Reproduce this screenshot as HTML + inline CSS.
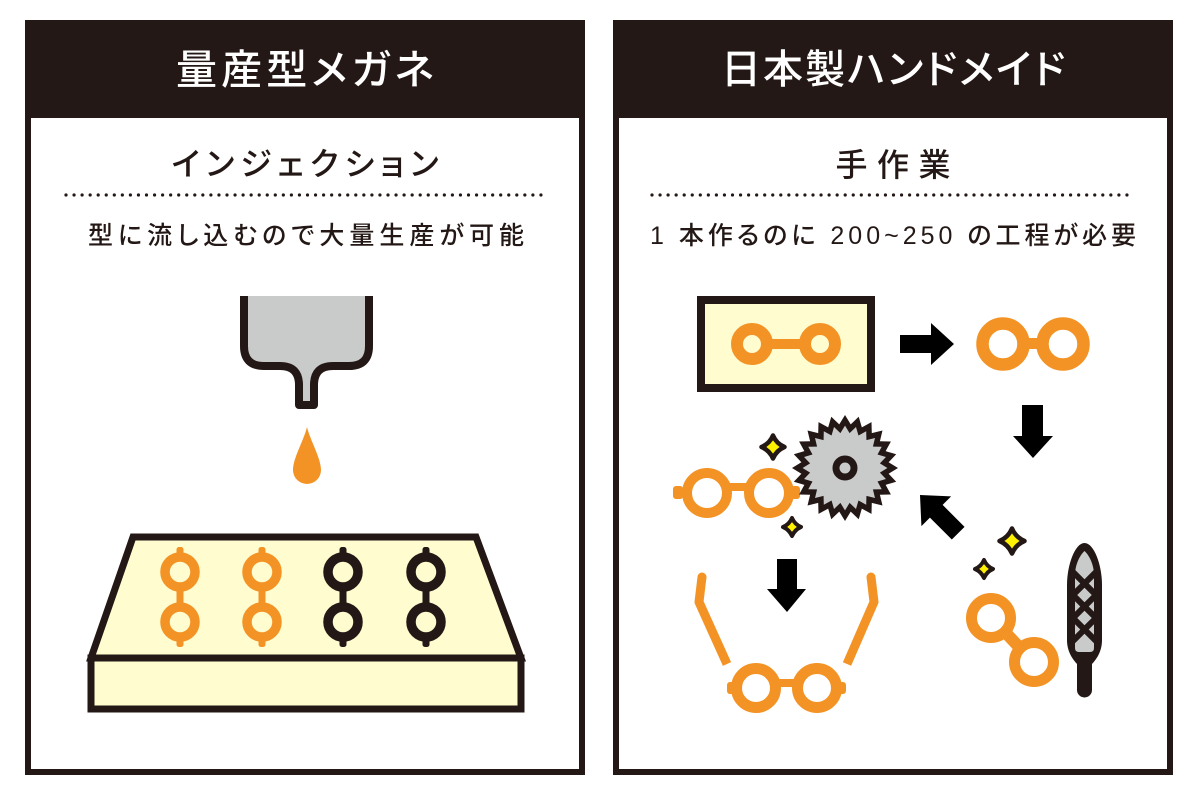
<!DOCTYPE html>
<html>
<head>
<meta charset="utf-8">
<style>
  html,body{margin:0;padding:0;background:#fff;}
  svg{display:block;}
  text{font-family:"Liberation Sans","Noto Sans CJK JP",sans-serif;font-feature-settings:"palt";}
</style>
</head>
<body>
<svg width="1200" height="800" viewBox="0 0 1200 800" xmlns="http://www.w3.org/2000/svg">
  <rect x="0" y="0" width="1200" height="800" fill="#ffffff"/>

  <!-- ============ LEFT PANEL ============ -->
  <rect x="25" y="20" width="560" height="98" fill="#231815"/>
  <rect x="28" y="23" width="554" height="749" fill="none" stroke="#231815" stroke-width="6"/>
  <text x="305" y="70" text-anchor="middle" dominant-baseline="central" font-size="41" font-weight="500" fill="#ffffff" textLength="258" lengthAdjust="spacing">量産型メガネ</text>
  <text x="305" y="164" text-anchor="middle" dominant-baseline="central" font-size="32" font-weight="500" fill="#231815" textLength="267" lengthAdjust="spacing">インジェクション</text>
  <line x1="66" y1="195" x2="546" y2="195" stroke="#231815" stroke-width="3.2" stroke-linecap="round" stroke-dasharray="0 8.05"/>
  <text x="306" y="236" text-anchor="middle" dominant-baseline="central" font-size="25" font-weight="500" fill="#231815" textLength="436" lengthAdjust="spacing">型に流し込むので大量生産が可能</text>

  <!-- nozzle -->
  <path d="M244,296 V346 Q244,366 264,366 H280 Q299,366 299,385 V405 H314 V385 Q314,366 333,366 H349 Q369,366 369,346 V296" fill="#c9caca" stroke="#231815" stroke-width="8" stroke-linejoin="round"/>
  <!-- drop -->
  <path d="M307,427 C310,440 321,458 321,470 A14,14 0 0 1 293,470 C293,458 304,440 307,427 Z" fill="#f39325"/>

  <!-- mold -->
  <polygon points="133,537 476,537 521,658 91,658" fill="#fffccf" stroke="#231815" stroke-width="7" stroke-linejoin="miter"/>
  <rect x="91" y="658" width="430" height="51" fill="#fffccf" stroke="#231815" stroke-width="7"/>

  <!-- mold glasses -->
  <g fill="none" stroke-width="9.5">
    <circle cx="180" cy="572" r="15" stroke="#f39325"/><circle cx="180" cy="622" r="15" stroke="#f39325"/>
    <circle cx="262" cy="572" r="15" stroke="#f39325"/><circle cx="262" cy="622" r="15" stroke="#f39325"/>
    <circle cx="343" cy="572" r="15" stroke="#231815"/><circle cx="343" cy="622" r="15" stroke="#231815"/>
    <circle cx="426" cy="572" r="15" stroke="#231815"/><circle cx="426" cy="622" r="15" stroke="#231815"/>
  </g>
  <g fill="#f39325">
    <rect x="176.5" y="547" width="7" height="9" rx="2.5"/><rect x="176.5" y="638" width="7" height="9" rx="2.5"/><rect x="176.5" y="588" width="7" height="18"/>
    <rect x="258.5" y="547" width="7" height="9" rx="2.5"/><rect x="258.5" y="638" width="7" height="9" rx="2.5"/><rect x="258.5" y="588" width="7" height="18"/>
  </g>
  <g fill="#231815">
    <rect x="339.5" y="547" width="7" height="9" rx="2.5"/><rect x="339.5" y="638" width="7" height="9" rx="2.5"/><rect x="339.5" y="588" width="7" height="18"/>
    <rect x="422.5" y="547" width="7" height="9" rx="2.5"/><rect x="422.5" y="638" width="7" height="9" rx="2.5"/><rect x="422.5" y="588" width="7" height="18"/>
  </g>

  <!-- ============ RIGHT PANEL ============ -->
  <rect x="613" y="20" width="560" height="98" fill="#231815"/>
  <rect x="616" y="23" width="554" height="749" fill="none" stroke="#231815" stroke-width="6"/>
  <text x="893" y="70" text-anchor="middle" dominant-baseline="central" font-size="40" font-weight="500" fill="#ffffff" textLength="344" lengthAdjust="spacing">日本製ハンドメイド</text>
  <text x="893" y="165" text-anchor="middle" dominant-baseline="central" font-size="32" font-weight="500" fill="#231815" textLength="115" lengthAdjust="spacing">手作業</text>
  <line x1="652" y1="195" x2="1132" y2="195" stroke="#231815" stroke-width="3.2" stroke-linecap="round" stroke-dasharray="0 8.05"/>
  <text x="893" y="236" text-anchor="middle" dominant-baseline="central" font-size="25" font-weight="500" fill="#231815" textLength="486" lengthAdjust="spacing">1 本作るのに 200~250 の工程が必要</text>

  <!-- acetate block with glasses -->
  <rect x="701" y="300" width="170" height="88" fill="#fffccf" stroke="#231815" stroke-width="8"/>
  <g fill="none" stroke="#f39325" stroke-width="12">
    <circle cx="752" cy="344" r="15"/>
    <circle cx="820" cy="344" r="15"/>
  </g>
  <rect x="770" y="339" width="32" height="10" fill="#f39325"/>

  <!-- right arrow -->
  <polygon points="900,335 931,335 931,323 954,344 931,365 931,353 900,353" fill="#000000"/>

  <!-- cut-out glasses -->
  <g fill="none" stroke="#f39325" stroke-width="12.5">
    <circle cx="1003" cy="344" r="20.5"/>
    <circle cx="1063" cy="344" r="20.5"/>
  </g>
  <rect x="1025" y="338" width="16" height="11" fill="#f39325"/>

  <!-- down arrow (right) -->
  <polygon points="1022,405 1043,405 1043,436 1053,436 1033,458 1013,436 1022,436" fill="#000000"/>

  <!-- middle-left glasses -->
  <g fill="none" stroke="#f39325" stroke-width="10">
    <circle cx="707" cy="493" r="20"/>
    <circle cx="769" cy="493" r="20"/>
  </g>
  <g fill="#f39325">
    <rect x="726" y="483" width="25" height="8"/>
    <rect x="673" y="486" width="10" height="13" rx="3"/>
    <rect x="791" y="486" width="9" height="13" rx="3"/>
  </g>

  <!-- saw blade -->
  <g transform="translate(845,468)">
    <polygon fill="#231815" points="53,0 43.62,5.74 51.19,13.72 40.65,16.84 45.9,26.5 34.91,26.79 37.48,37.48 26.79,34.91 26.5,45.9 16.84,40.65 13.72,51.19 5.74,43.62 0,53 -5.74,43.62 -13.72,51.19 -16.84,40.65 -26.5,45.9 -26.79,34.91 -37.48,37.48 -34.91,26.79 -45.9,26.5 -40.65,16.84 -51.19,13.72 -43.62,5.74 -53,0 -43.62,-5.74 -51.19,-13.72 -40.65,-16.84 -45.9,-26.5 -34.91,-26.79 -37.48,-37.48 -26.79,-34.91 -26.5,-45.9 -16.84,-40.65 -13.72,-51.19 -5.74,-43.62 0,-53 5.74,-43.62 13.72,-51.19 16.84,-40.65 26.5,-45.9 26.79,-34.91 37.48,-37.48 34.91,-26.79 45.9,-26.5 40.65,-16.84 51.19,-13.72 43.62,-5.74"/>
    <polygon fill="#c9caca" transform="scale(0.8)" points="53,0 43.62,5.74 51.19,13.72 40.65,16.84 45.9,26.5 34.91,26.79 37.48,37.48 26.79,34.91 26.5,45.9 16.84,40.65 13.72,51.19 5.74,43.62 0,53 -5.74,43.62 -13.72,51.19 -16.84,40.65 -26.5,45.9 -26.79,34.91 -37.48,37.48 -34.91,26.79 -45.9,26.5 -40.65,16.84 -51.19,13.72 -43.62,5.74 -53,0 -43.62,-5.74 -51.19,-13.72 -40.65,-16.84 -45.9,-26.5 -34.91,-26.79 -37.48,-37.48 -26.79,-34.91 -26.5,-45.9 -16.84,-40.65 -13.72,-51.19 -5.74,-43.62 0,-53 5.74,-43.62 13.72,-51.19 16.84,-40.65 26.5,-45.9 26.79,-34.91 37.48,-37.48 34.91,-26.79 45.9,-26.5 40.65,-16.84 51.19,-13.72 43.62,-5.74"/>
    <circle cx="0" cy="0" r="9" fill="#c9caca" stroke="#231815" stroke-width="7"/>
  </g>

  <!-- sparkles -->
  <g fill="#fff100" stroke="#231815" stroke-linejoin="round">
    <path transform="translate(773,447)" stroke-width="4.5" d="M0,-11.5 Q3.4,-3.4 11.5,0 Q3.4,3.4 0,11.5 Q-3.4,3.4 -11.5,0 Q-3.4,-3.4 0,-11.5Z"/>
    <path transform="translate(792,527)" stroke-width="4" d="M0,-9 Q2.7,-2.7 9,0 Q2.7,2.7 0,9 Q-2.7,2.7 -9,0 Q-2.7,-2.7 0,-9Z"/>
    <path transform="translate(1012,541)" stroke-width="4.5" d="M0,-12.5 Q3.7,-3.7 12.5,0 Q3.7,3.7 0,12.5 Q-3.7,3.7 -12.5,0 Q-3.7,-3.7 0,-12.5Z"/>
    <path transform="translate(984,569)" stroke-width="4" d="M0,-9 Q2.7,-2.7 9,0 Q2.7,2.7 0,9 Q-2.7,2.7 -9,0 Q-2.7,-2.7 0,-9Z"/>
  </g>

  <!-- up-left arrow -->
  <polygon transform="translate(920,495) rotate(225)" points="-54,-9 -23,-9 -23,-21 0,0 -23,21 -23,9 -54,9" fill="#000000"/>

  <!-- diagonal glasses -->
  <g fill="none" stroke="#f39325" stroke-width="11">
    <circle cx="991" cy="618" r="19.5"/>
    <circle cx="1034" cy="662" r="19.5"/>
    <line x1="1005" y1="632" x2="1020" y2="648" stroke-width="12"/>
  </g>

  <!-- file tool -->
  <line x1="1084.5" y1="655" x2="1084.5" y2="690" stroke="#231815" stroke-width="15" stroke-linecap="round"/>
  <path d="M1084.5,543 C1094,543 1102,565 1102,585 V640 C1102,652 1096,660 1091,665 H1078 C1073,660 1067,652 1067,640 V585 C1067,565 1075,543 1084.5,543 Z" fill="#231815"/>
  <path d="M1084.5,551 C1090,556 1094,566 1094,575 V648 Q1094,652 1090,652 H1079 Q1075,652 1075,648 V575 C1075,566 1079,556 1084.5,551 Z" fill="#c9caca"/>
  <g fill="none" stroke="#231815" stroke-width="6" stroke-linejoin="miter">
    <polyline points="1073,572 1096,595 1073,618 1096,641"/>
    <polyline points="1096,572 1073,595 1096,618 1073,641"/>
  </g>

  <!-- down arrow (left) -->
  <polygon points="777,559 797,559 797,589 806,589 787,612 767,589 777,589" fill="#000000"/>

  <!-- finished glasses with temples -->
  <g fill="none" stroke="#f39325" stroke-width="9" stroke-linejoin="round">
    <polyline points="702,577 699,602 727,664"/>
    <polyline points="871,577 874,602 847,664"/>
  </g>
  <circle cx="702" cy="577" r="4.5" fill="#f39325"/>
  <circle cx="871" cy="577" r="4.5" fill="#f39325"/>
  <g fill="none" stroke="#f39325" stroke-width="11">
    <circle cx="756" cy="688" r="19.5"/>
    <circle cx="817" cy="688" r="19.5"/>
  </g>
  <g fill="#f39325">
    <rect x="774" y="679" width="25" height="8"/>
    <rect x="727" y="682" width="8" height="12" rx="3"/>
    <rect x="838" y="682" width="8" height="12" rx="3"/>
  </g>
</svg>
</body>
</html>
